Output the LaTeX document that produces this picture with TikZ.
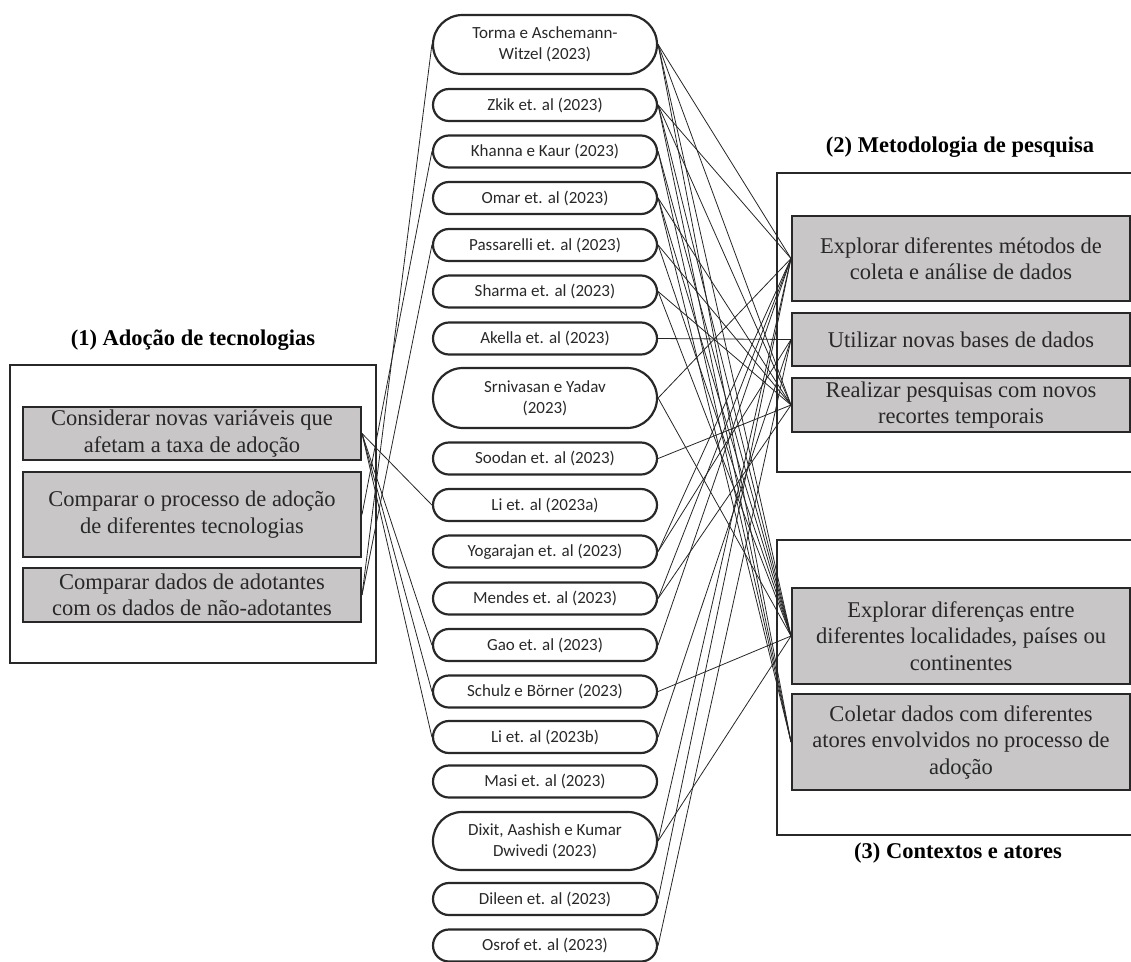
\documentclass[tikz,border=0pt]{standalone}
\usepackage{fontspec}
\setmainfont{Liberation Serif}
\newfontfamily\pillfont{Carlito}
\usetikzlibrary{shapes.misc}
\definecolor{boxgray}{RGB}{200,198,199}
\definecolor{ink}{RGB}{40,40,40}

\begin{document}
\begin{tikzpicture}[x=1pt,y=-1pt,
  pill/.style={rounded rectangle,draw=ink,line width=2.2pt,minimum width=224pt,
    minimum height=32pt,inner sep=0pt,align=center,text=ink,
    font=\pillfont\fontsize{17}{21}\selectfont},
  topic/.style={rectangle,draw=ink,line width=2pt,fill=boxgray,minimum width=338pt,
    inner sep=0pt,align=center,text=ink,font=\fontsize{22.5}{26.5}\selectfont},
  frame/.style={draw=ink,line width=1.4pt},
  title/.style={font=\bfseries\fontsize{22.5}{26}\selectfont},
  link/.style={draw=black!85,line width=0.8pt}]
\useasboundingbox (0,0) rectangle (1131,961);

% left group
\node[title] (t1) at (193,340) {(1) Ado\c{c}\~ao de tecnologias};
\node[frame,minimum width=366pt,minimum height=298pt] (fr1) at (193,514) {};
\node[topic,minimum height=53pt] (ado1) at (192,433.5) {Considerar novas vari\'aveis que\\afetam a taxa de ado\c{c}\~ao};
\node[topic,minimum height=85pt] (ado2) at (192,514.5) {Comparar o processo de ado\c{c}\~ao\\de diferentes tecnologias};
\node[topic,minimum height=54pt] (ado3) at (192,595) {Comparar dados de adotantes\\com os dados de n\~ao-adotantes};

% right groups
\node[title] (t2) at (960,147) {(2) Metodologia de pesquisa};
\draw[frame] (1131,173) -| (777,472) -- (1131,472);
\node[topic,minimum height=85pt] (met1) at (961,258.5) {Explorar diferentes m\'etodos de\\coleta e an\'alise de dados};
\node[topic,minimum height=53pt] (met2) at (961,339.5) {Utilizar novas bases de dados};
\node[topic,minimum height=54pt] (met3) at (961,405) {Realizar pesquisas com novos\\recortes temporais};

\node[title] (t3) at (958,853) {(3) Contextos e atores};
\draw[frame] (1131,540) -| (777,835) -- (1131,835);
\node[topic,minimum height=96pt] (ctx1) at (961,636) {Explorar diferen\c{c}as entre\\diferentes localidades, pa\'ises ou\\continentes};
\node[topic,minimum height=96pt] (ctx2) at (961,742) {Coletar dados com diferentes\\atores envolvidos no processo de\\ado\c{c}\~ao};

% studies
\node[pill,minimum height=59pt] (tor) at (545,44.5) {Torma e Aschemann-\\Witzel (2023)};
\node[pill] (zki) at (545,105) {Zkik et. al (2023)};
\node[pill] (kha) at (545,151.5) {Khanna e Kaur (2023)};
\node[pill] (oma) at (545,198) {Omar et. al (2023)};
\node[pill] (pas) at (545,245) {Passarelli et. al (2023)};
\node[pill] (sha) at (545,291.5) {Sharma et. al (2023)};
\node[pill] (ake) at (545,338.5) {Akella et. al (2023)};
\node[pill,minimum height=60pt] (srn) at (545,398) {Srnivasan e Yadav\\(2023)};
\node[pill] (soo) at (545,458.5) {Soodan et. al (2023)};
\node[pill] (lia) at (545,505) {Li et. al (2023a)};
\node[pill] (yog) at (545,551.5) {Yogarajan et. al (2023)};
\node[pill] (men) at (545,598.5) {Mendes et. al (2023)};
\node[pill] (gao) at (545,645) {Gao et. al (2023)};
\node[pill] (sch) at (545,691.5) {Schulz e B\"orner (2023)};
\node[pill] (lib) at (545,737) {Li et. al (2023b)};
\node[pill] (mas) at (545,781.5) {Masi et. al (2023)};
\node[pill,minimum height=58pt] (dix) at (545,841) {Dixit, Aashish e Kumar\\Dwivedi (2023)};
\node[pill] (dil) at (545,899) {Dileen et. al (2023)};
\node[pill] (osr) at (545,945.5) {Osrof et. al (2023)};

% links to (1)
\draw[link] (tor.west) -- (ado3.east);
\draw[link] (kha.west) -- (ado2.east);
\draw[link] (pas.west) -- (ado3.east);
\draw[link] (ado1.east) -- (lia.west);
\draw[link] (ado1.east) -- (gao.west);
\draw[link] (ado1.east) -- (sch.west);
\draw[link] (ado1.east) -- (lib.west);

% links to (2) and (3)
\draw[link] (tor.east) -- (met1.west);
\draw[link] (tor.east) -- (met3.west);
\draw[link] (tor.east) -- (ctx1.west);
\draw[link] (tor.east) -- (ctx2.west);
\draw[link] (zki.east) -- (met1.west);
\draw[link] (zki.east) -- (met3.west);
\draw[link] (zki.east) -- (ctx1.west);
\draw[link] (zki.east) -- (ctx2.west);
\draw[link] (kha.east) -- (ctx1.west);
\draw[link] (kha.east) -- (ctx2.west);
\draw[link] (oma.east) -- (met3.west);
\draw[link] (oma.east) -- (ctx1.west);
\draw[link] (oma.east) -- (ctx2.west);
\draw[link] (pas.east) -- (met3.west);
\draw[link] (pas.east) -- (ctx1.west);
\draw[link] (sha.east) -- (met3.west);
\draw[link] (sha.east) -- (ctx1.west);
\draw[link] (ake.east) -- (met2.west);
\draw[link] (srn.east) -- (met1.west);
\draw[link] (srn.east) -- (ctx1.west);
\draw[link] (soo.east) -- (met3.west);
\draw[link] (yog.east) -- (met1.west);
\draw[link] (yog.east) -- (met2.west);
\draw[link] (men.east) -- (met1.west);
\draw[link] (men.east) -- (met3.west);
\draw[link] (gao.east) -- (met1.west);
\draw[link] (sch.east) -- (ctx1.west);
\draw[link] (lib.east) -- (met2.west);
\draw[link] (dix.east) -- (met1.west);
\draw[link] (dix.east) -- (ctx1.west);
\draw[link] (dil.east) -- (met1.west);
\draw[link] (osr.east) -- (met2.west);
\end{tikzpicture}
\end{document}
